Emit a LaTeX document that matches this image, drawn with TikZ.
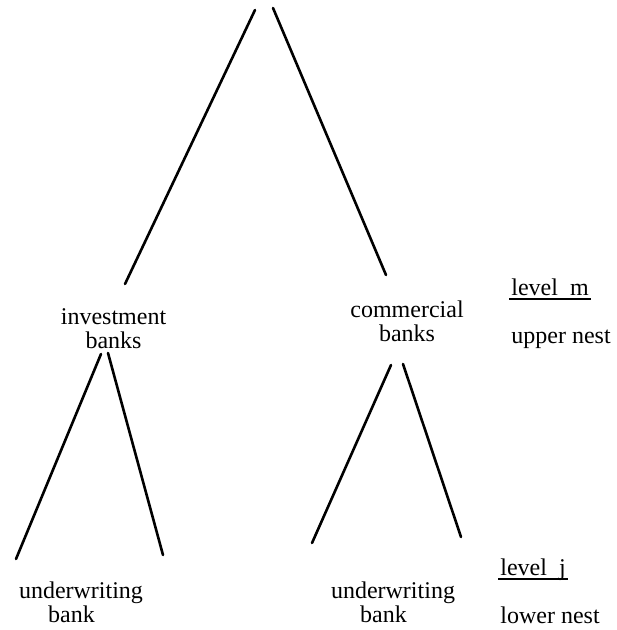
\documentclass[tikz,border=0pt]{standalone}
\usepackage{fontspec}
\setmainfont{Liberation Serif}
\usetikzlibrary{positioning}
% thick underline for level labels
\newcommand\lvlul[1]{\leavevmode\setbox0\hbox{#1}%
  \rlap{\kern-1.2pt\rule[-2.3pt]{\dimexpr\wd0+2.4pt\relax}{1pt}}\box0}
\tikzset{
    %Define style for bank labels
    banknode/.style={
             align=center, inner sep=0pt,
             font=\fontsize{12}{12}\selectfont},
    %Define style for level labels
    levelnode/.style={
             anchor=base west, inner sep=0pt,
             font=\fontsize{12}{12}\selectfont},
    % Define line style
    branch/.style={
            line width=1.3pt,
            line cap=round}
}

\begin{document}
\begin{tikzpicture}[x=0.5pt, y=-0.5pt]
 \useasboundingbox (0,0) rectangle (616,630);
 % bank labels
 \node[banknode] (inv) at (113.5,329) {investment\\banks};
 \node[banknode] (com) at (407,321) {commercial\\banks};
 \node[banknode] (uwinv) at (81,602) {underwriting\\bank\hspace*{9.5pt}};
 \node[banknode] (uwcom) at (393,602) {underwriting\\bank\hspace*{9.5pt}};
 % level labels
 \node[levelnode] (levm) at (511,295) {\lvlul{level\ \ m}};
 \node[levelnode, below=24pt of levm.base west, anchor=base west] (upper) {upper nest};
 \node[levelnode] (levj) at (500,575) {\lvlul{level\ \ j}};
 \node[levelnode, below=24pt of levj.base west, anchor=base west] (lower) {lower nest};
 % line ends
 \coordinate (apexl) at (255,10);
 \coordinate (apexr) at (273,8);
 \coordinate (invtop) at (125,284);
 \coordinate (comtop) at (386,275);
 \coordinate (invl) at (101,354);
 \coordinate (invr) at (108,353);
 \coordinate (coml) at (391,365);
 \coordinate (comr) at (403,364);
 \coordinate (uwinvl) at (16,559);
 \coordinate (uwinvr) at (163,555);
 \coordinate (uwcoml) at (312,543);
 \coordinate (uwcomr) at (461,537);
 \draw[branch] (apexl) -- (invtop);
 \draw[branch] (apexr) -- (comtop);
 \draw[branch] (invl) -- (uwinvl);
 \draw[branch] (invr) -- (uwinvr);
 \draw[branch] (coml) -- (uwcoml);
 \draw[branch] (comr) -- (uwcomr);
\end{tikzpicture}
\end{document}
